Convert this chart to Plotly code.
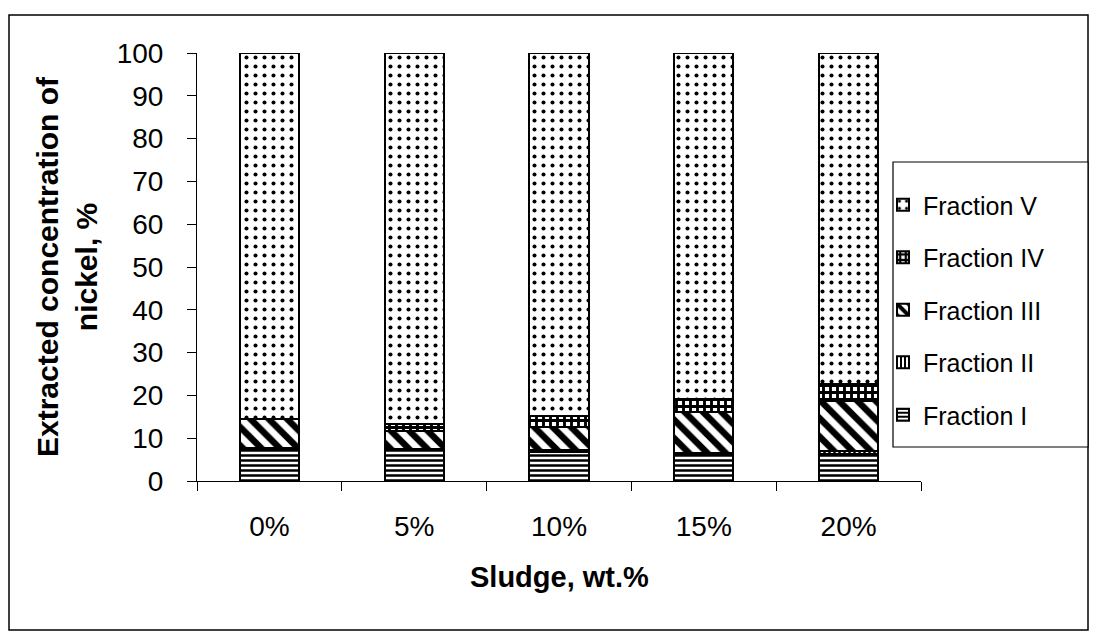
import plotly.graph_objects as go

categories = ["0%", "5%", "10%", "15%", "20%"]
fraction_I = [7.3, 7.2, 6.7, 6.2, 6.4]
fraction_II = [0.3, 0.3, 0.5, 0.4, 0.5]
fraction_III = [6.9, 4.3, 5.5, 9.6, 11.9]
fraction_IV = [0.1, 1.6, 2.6, 3.0, 3.8]
fraction_V = [85.4, 86.6, 84.7, 80.8, 77.4]
y_ticks = [0, 10, 20, 30, 40, 50, 60, 70, 80, 90, 100]

W, H = 1096, 637
L, R, T, B = 197, W - 921, 53, H - 481
PW, PH = W - L - R, H - T - B

def px(x):
    return (x - L) / PW

def py(y):
    return (H - B - y) / PH

FONT = "Arial, Liberation Sans, sans-serif"

series = [
    ("Fraction I", fraction_I, "-", 5, 0.5, 5),
    ("Fraction II", fraction_II, "|", 5, 0.5, 4),
    ("Fraction III", fraction_III, "\\", 13, 0.5, 3),
    ("Fraction IV", fraction_IV, "+", 7, 0.65, 2),
    ("Fraction V", fraction_V, ".", 9, 0.16, 1),
]

fig = go.Figure()
for name, vals, shape, size, sol, rank in series:
    fig.add_trace(go.Bar(
        x=categories, y=vals, name=name, legendgroup=name, legendrank=rank,
        width=0.41,
        marker=dict(
            color="white",
            line=dict(color="black", width=2),
            pattern=dict(shape=shape, fgcolor="black", bgcolor="white",
                         fgopacity=1, size=size, solidity=sol, fillmode="replace"),
        ),
    ))

fig.update_layout(
    width=W, height=H,
    margin=dict(l=L, r=R, t=T, b=B, autoexpand=False),
    barmode="stack",
    paper_bgcolor="white", plot_bgcolor="white",
    font=dict(family=FONT, color="black", size=28),
    showlegend=True,
    legend=dict(
        x=px(883), y=py(182), xanchor="left", yanchor="top",
        traceorder="grouped", tracegroupgap=17,
        borderwidth=0, bgcolor="rgba(0,0,0,0)",
        font=dict(size=25, family=FONT),
        itemwidth=30,
    ),
    xaxis=dict(
        showline=True, linecolor="black", linewidth=1,
        ticks="outside", ticklen=9, tickcolor="black", tickson="boundaries",
        showgrid=False, zeroline=False,
        tickfont=dict(size=28), ticklabelstandoff=20,
    ),
    yaxis=dict(
        range=[0, 100], tickvals=y_ticks,
        showline=True, linecolor="black", linewidth=1,
        ticks="outside", ticklen=9, tickcolor="black",
        showgrid=False, zeroline=False,
        tickfont=dict(size=28), ticklabelstandoff=18,
    ),
    annotations=[
        dict(text="<b>Sludge, wt.%</b>", xref="paper", yref="paper",
             x=0.5, y=py(577), xanchor="center", yanchor="middle",
             showarrow=False, font=dict(size=29, family=FONT)),
        dict(text="<b>Extracted concentration of<br>nickel, %</b>", xref="paper", yref="paper",
             x=px(67), y=0.5, xanchor="center", yanchor="middle", textangle=-90,
             showarrow=False, font=dict(size=30, family=FONT)),
    ],
    shapes=[
        dict(type="rect", xref="paper", yref="paper",
             x0=px(9), x1=px(1088), y0=py(630), y1=py(15),
             line=dict(color="black", width=1.5), layer="below"),
        dict(type="rect", xref="paper", yref="paper",
             x0=px(893), x1=px(1088), y0=py(447), y1=py(162),
             line=dict(color="black", width=1.2), fillcolor="white", layer="below"),
    ],
)

fig.write_html("out.html")
